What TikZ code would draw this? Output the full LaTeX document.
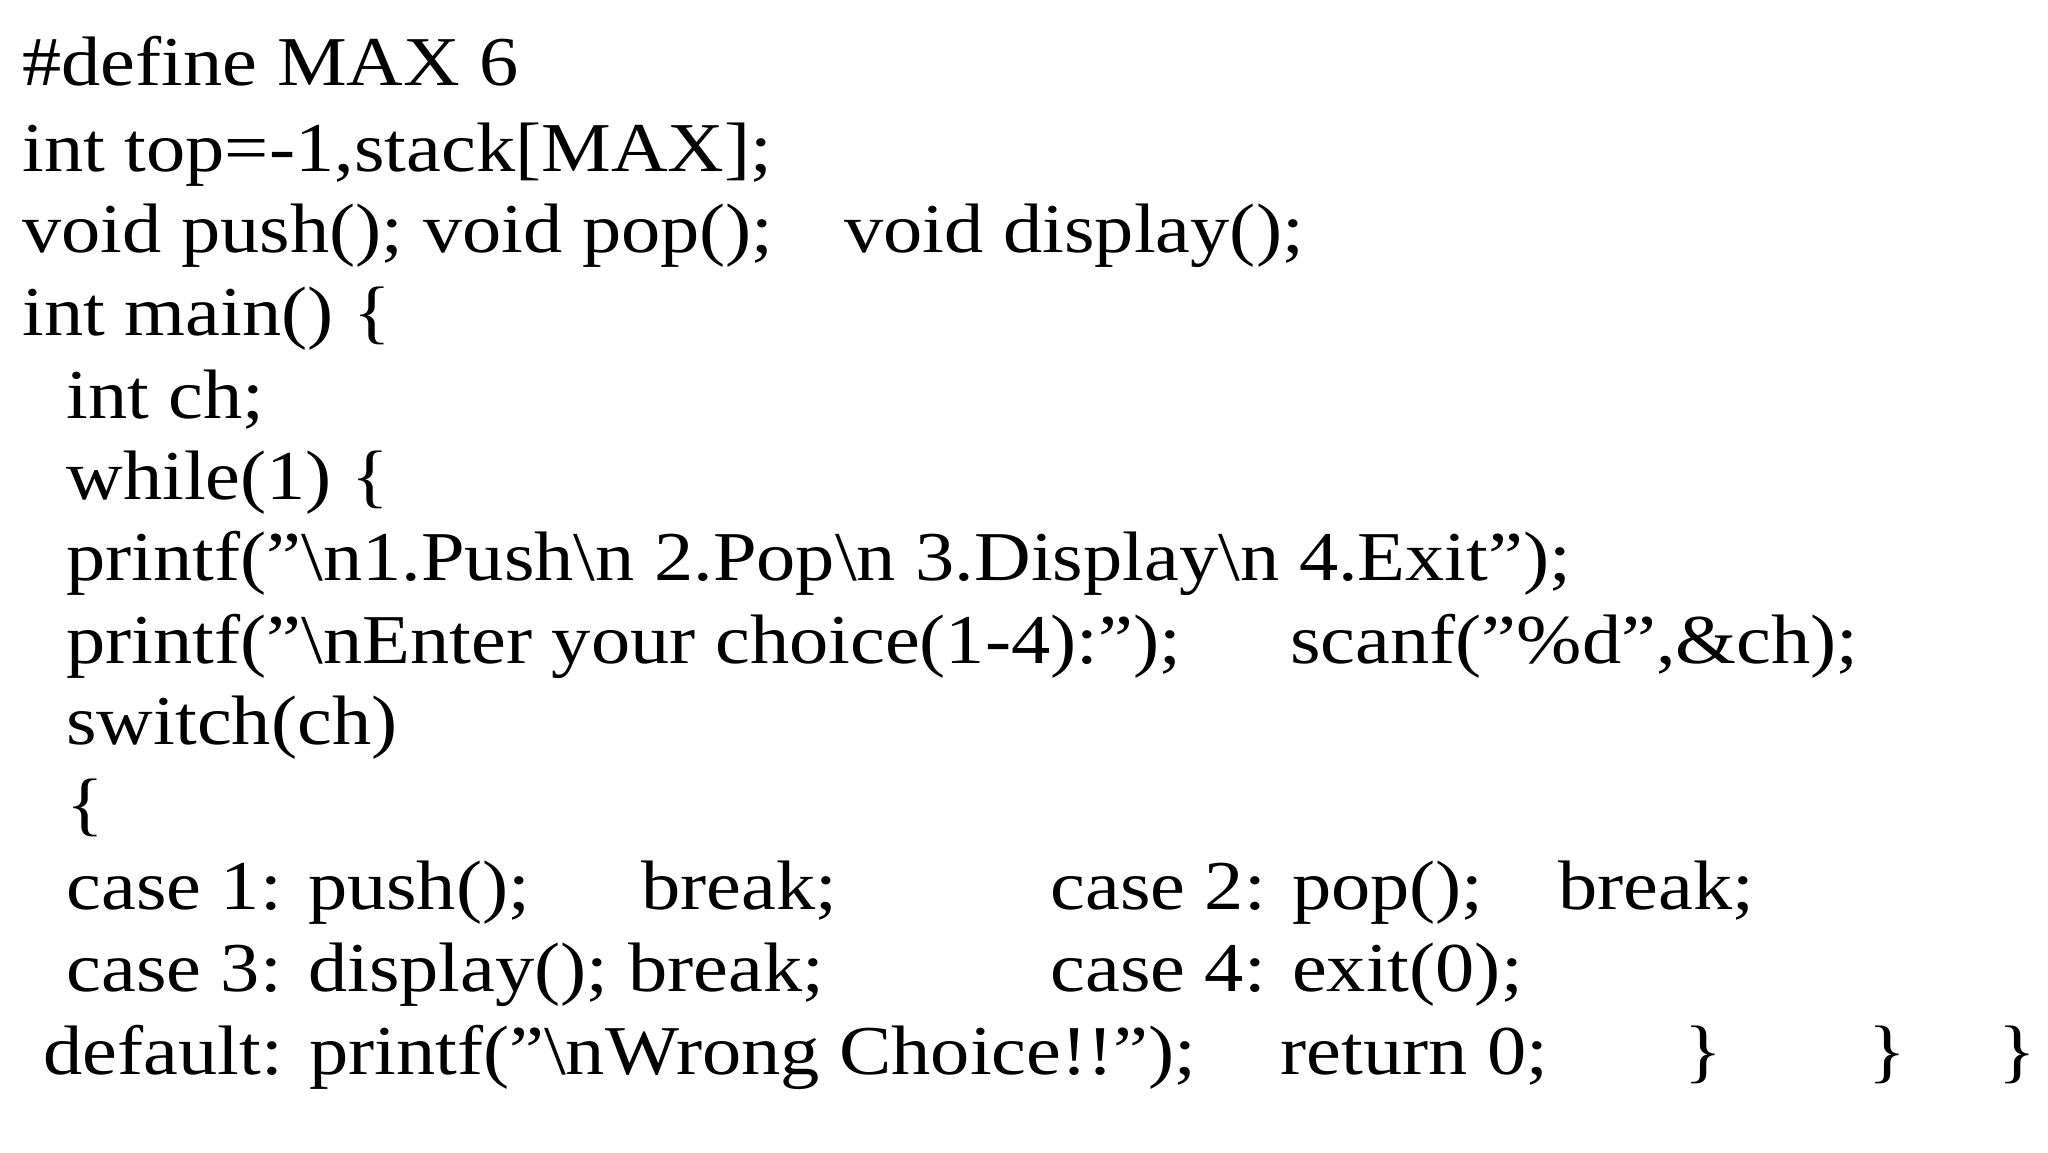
\documentclass[tikz,border=0pt]{standalone}
\usepackage{fontspec}
\setmainfont{Liberation Serif}[FakeStretch=1.12]
\begin{document}
\begin{tikzpicture}[x=0.5pt,y=-0.5pt,
  code/.style={anchor=base west,inner sep=0pt,font=\fontsize{35}{40}\selectfont}]
\useasboundingbox (0,0) rectangle (2048,1152);
\node[code] (l1) at (22,85) {\#define MAX 6};
\node[code] (l2) at (22,171) {int top=-1,stack[MAX];};
\node[code] (l3a) at (22,252) {void push(); void pop();};
\node[code] (l3b) at (844,252) {void display();};
\node[code] (l4) at (22,335) {int main() \{};
\node[code] (l5) at (66,418) {int ch;};
\node[code] (l6) at (66,499) {while(1) \{};
\node[code] (l7) at (66,580) {printf("\textbackslash n1.Push\textbackslash n 2.Pop\textbackslash n 3.Display\textbackslash n 4.Exit");};
\node[code] (l8a) at (66,663) {printf("\textbackslash nEnter your choice(1-4):");};
\node[code] (l8b) at (1290,663) {scanf("\%d",\&ch);};
\node[code] (l9) at (66,744) {switch(ch)};
\node[code] (l10) at (66,827) {\{};
\node[code] (l11a) at (66,909) {case 1: push();};
\node[code] (l11b) at (641,909) {break;};
\node[code] (l11c) at (1050,909) {case 2: pop();};
\node[code] (l11d) at (1558,909) {break;};
\node[code] (l12a) at (66,991) {case 3: display(); break;};
\node[code] (l12b) at (1050,991) {case 4: exit(0);};
\node[code] (l13a) at (43,1074) {default: printf("\textbackslash nWrong Choice!!");};
\node[code] (l13b) at (1280,1074) {return 0;};
\node[code] (l13c) at (1684,1074) {\}};
\node[code] (l13d) at (1868,1074) {\}};
\node[code] (l13e) at (1998,1074) {\}};
\end{tikzpicture}
\end{document}
